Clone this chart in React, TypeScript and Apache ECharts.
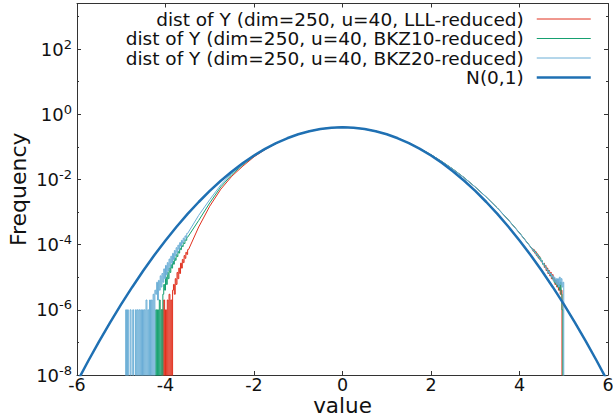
import { useEffect, useRef } from 'react';
import * as echarts from 'echarts';

const FONT = 'DejaVu Sans';
const INK = '#111111';
const AXIS = '#333333';

// x range / ticks
const xMin = -6;
const xMax = 6;
const xStep = 2;
// y range in decades (log10)
const yExpMin = -8;
const yExpMax = 3.396;
const yLabelStep = 2;

const seriesNames = [
  'dist of Y (dim=250, u=40, LLL-reduced)',
  'dist of Y (dim=250, u=40, BKZ10-reduced)',
  'dist of Y (dim=250, u=40, BKZ20-reduced)',
  'N(0,1)',
];
const seriesColors = ['#e0301e', '#16a070', '#6aaed6', '#1f70b3'];
const seriesWidths = [1, 1, 1, 2.5];

// N(0,1) curve
const normalX = [
  -6, -5.75, -5.5, -5.25, -5, -4.75, -4.5, -4.25, -4, -3.75, -3.5, -3.25, -3, -2.75, -2.5, -2.25, -2,
  -1.75, -1.5, -1.25, -1, -0.75, -0.5, -0.25, 0, 0.25, 0.5, 0.75, 1, 1.25, 1.5, 1.75, 2, 2.25, 2.5,
  2.75, 3, 3.25, 3.5, 3.75, 4, 4.25, 4.5, 4.75, 5, 5.25, 5.5, 5.75, 6,
];
const normalY = [
  6.076e-9, 2.64e-8, 1.077e-7, 4.128e-7, 1.487e-6, 5.031e-6, 1.598e-5, 4.774e-5, 1.338e-4, 3.526e-4,
  8.727e-4, 2.028e-3, 4.432e-3, 9.094e-3, 1.753e-2, 3.174e-2, 5.399e-2, 8.628e-2, 0.1295, 0.1827,
  0.242, 0.3011, 0.3521, 0.3867, 0.3989, 0.3867, 0.3521, 0.3011, 0.242, 0.1827, 0.1295, 8.628e-2,
  5.399e-2, 3.174e-2, 1.753e-2, 9.094e-3, 4.432e-3, 2.028e-3, 8.727e-4, 3.526e-4, 1.338e-4, 4.774e-5,
  1.598e-5, 5.031e-6, 1.487e-6, 4.128e-7, 1.077e-7, 2.64e-8, 6.076e-9,
];

// smooth central part of the three histograms
const coreX = [
  -3.25, -3, -2.75, -2.5, -2.25, -2, -1.75, -1.5, -1.25, -1, -0.75, -0.5, -0.25, 0, 0.25, 0.5, 0.75,
  1, 1.25, 1.5, 1.75, 2, 2.25, 2.5, 2.75, 3, 3.25, 3.5, 3.75, 4, 4.25,
];
const lllCore = [
  3.47e-4, 1.51e-3, 5.01e-3, 1.26e-2, 2.57e-2, 4.9e-2, 8.22e-2, 0.1265, 0.1815, 0.2415, 0.301, 0.3525,
  0.3875, 0.3995, 0.3875, 0.3525, 0.3015, 0.2425, 0.1835, 0.1305, 0.0875, 0.0572, 0.035, 0.0204,
  0.01125, 0.00582, 0.00286, 0.00132, 5.65e-4, 2.27e-4, 8.5e-5,
];
const bkz10Core = [
  5.5e-4, 1.9e-3, 5.9e-3, 1.41e-2, 2.82e-2, 5.13e-2, 8.41e-2, 0.1285, 0.182, 0.2418, 0.3012, 0.3523,
  0.3872, 0.3992, 0.3874, 0.3524, 0.3014, 0.2424, 0.1834, 0.1304, 0.0874, 0.0573, 0.0351, 0.0205,
  0.0113, 0.00585, 0.00288, 0.00133, 5.7e-4, 2.3e-4, 8.6e-5,
];
const bkz20Core = [
  7.9e-4, 2.4e-3, 6.8e-3, 1.55e-2, 2.95e-2, 5.25e-2, 8.51e-2, 0.129, 0.1825, 0.242, 0.3011, 0.3521,
  0.387, 0.399, 0.3872, 0.3522, 0.3013, 0.2423, 0.1833, 0.1303, 0.0873, 0.0571, 0.0349, 0.0203,
  0.0112, 0.0058, 0.00284, 0.00131, 5.6e-4, 2.25e-4, 8.4e-5,
];

// noisy tails, histogram bins of width binWidth (0 = empty bin)
const binWidth = 0.02;
const lllLeftStart = -4.08;
const lllLeft = [
  1e-6, 0, 2e-6, 0, 1e-6, 0, 2e-6, 0, 3e-6, 0, 2e-6, 0, 4e-6, 6e-6, 3e-6, 9e-6, 6e-6, 1.4e-5, 9e-6,
  1.9e-5, 1.3e-5, 2.7e-5, 1.9e-5, 3.5e-5, 2.8e-5, 4.6e-5, 3.8e-5, 5.8e-5, 5.0e-5, 7.0e-5,
];
const bkz10LeftStart = -4.22;
const bkz10Left = [
  1e-6, 0, 1e-6, 0, 2e-6, 0, 1e-6, 0, 3e-6, 6e-6, 4e-6, 1.0e-5, 6e-6, 1.4e-5, 9e-6, 1.9e-5, 1.4e-5,
  2.4e-5, 1.9e-5, 3.1e-5, 2.5e-5, 3.9e-5, 3.3e-5, 4.9e-5, 4.3e-5, 6.1e-5, 5.5e-5, 7.7e-5, 7.0e-5,
  9.4e-5, 8.7e-5, 1.14e-4, 1.08e-4, 1.38e-4, 1.35e-4, 1.68e-4,
];
const bkz20LeftStart = -4.92;
const bkz20Left = [
  0, 1e-6, 0, 1e-6, 0, 0, 1e-6, 0, 0, 1e-6, 0, 0, 1e-6, 0, 1e-6, 0, 1e-6, 0, 1e-6, 0, 1e-6, 0, 1e-6,
  0, 2e-6, 0, 1e-6, 0, 2e-6, 0, 2e-6, 0, 3e-6, 0, 4e-6, 3e-6, 7e-6, 2e-6, 8e-6, 4e-6, 1.1e-5, 5e-6,
  1.3e-5, 7e-6, 1.8e-5, 9e-6, 2.3e-5, 1.2e-5, 2.8e-5, 1.6e-5, 3.6e-5, 2.1e-5, 4.4e-5, 2.7e-5,
  5.4e-5, 3.5e-5, 6.6e-5, 4.6e-5, 8.0e-5, 5.8e-5, 9.6e-5, 7.2e-5, 1.15e-4, 9.0e-5, 1.35e-4, 1.12e-4,
  1.58e-4, 1.36e-4, 1.85e-4, 1.65e-4, 2.2e-4,
];
const rightStart = 4.28;
const lllRight = [
  7.6e-5, 6.4e-5, 6.9e-5, 5.5e-5, 6.0e-5, 4.6e-5, 5.1e-5, 3.9e-5, 4.3e-5, 3.4e-5, 3.3e-5, 2.9e-5,
  2.6e-5, 2.7e-5, 2.0e-5, 2.3e-5, 1.6e-5, 1.9e-5, 1.3e-5, 1.6e-5, 1.1e-5, 1.4e-5, 9e-6, 1.2e-5, 8e-6,
  9e-6, 6e-6, 8e-6, 5e-6, 7e-6, 4e-6, 6e-6, 3e-6, 4e-6,
];
const bkz10Right = [
  7.2e-5, 7.0e-5, 6.1e-5, 6.3e-5, 5.2e-5, 5.4e-5, 4.4e-5, 4.6e-5, 3.7e-5, 3.9e-5, 3.1e-5, 3.2e-5,
  2.5e-5, 2.6e-5, 2.2e-5, 2.0e-5, 1.9e-5, 1.6e-5, 1.6e-5, 1.3e-5, 1.3e-5, 1.1e-5, 1.1e-5, 9e-6, 9e-6,
  7e-6, 8e-6, 6e-6, 6e-6, 5e-6, 6e-6, 4e-6, 7e-6, 3e-6, 1e-6,
];
const bkz20Right = [
  7.4e-5, 6.6e-5, 6.4e-5, 5.9e-5, 5.4e-5, 5.1e-5, 4.5e-5, 4.2e-5, 4.0e-5, 3.5e-5, 3.3e-5, 3.0e-5,
  2.7e-5, 2.4e-5, 2.3e-5, 2.0e-5, 1.8e-5, 1.7e-5, 1.4e-5, 1.5e-5, 1.2e-5, 1.3e-5, 1.0e-5, 1.1e-5,
  8e-6, 1.0e-5, 7e-6, 9e-6, 6e-6, 9e-6, 5e-6, 1.0e-5, 6e-6, 9e-6, 5e-6, 7e-6,
];

// empty bins are drawn below the axis floor (like log(0) in the original)
const FLOOR = 1e-9;

function binsToSteps(start: number, values: number[]): number[][] {
  const pts: number[][] = [];
  values.forEach((v, i) => {
    const x0 = start + i * binWidth;
    const y = v > 0 ? v : FLOOR;
    pts.push([x0, y], [x0 + binWidth, y]);
  });
  return pts;
}

function buildHist(leftStart: number, left: number[], core: number[], right: number[]): number[][] {
  const pts: number[][] = [[leftStart, FLOOR]];
  pts.push(...binsToSteps(leftStart, left));
  coreX.forEach((x, i) => pts.push([x, core[i]]));
  pts.push(...binsToSteps(rightStart, right));
  pts.push([rightStart + right.length * binWidth, FLOOR]);
  return pts;
}

export default function App() {
  const ref = useRef<HTMLDivElement>(null);

  useEffect(() => {
    document.body.style.margin = '0';
    if (!ref.current) return;
    const chart = echarts.init(ref.current, undefined, { renderer: 'svg' });

    const axisLineStyle = { color: AXIS, width: 1 };
    const tickBase = { show: true, inside: true, length: 4, lineStyle: axisLineStyle };
    const minor = { show: true, splitNumber: 2, length: 2, lineStyle: axisLineStyle };

    const histData = [
      buildHist(lllLeftStart, lllLeft, lllCore, lllRight),
      buildHist(bkz10LeftStart, bkz10Left, bkz10Core, bkz10Right),
      buildHist(bkz20LeftStart, bkz20Left, bkz20Core, bkz20Right),
    ];
    const normalData = normalX.map((x, i) => [x, normalY[i]]);
    const allData = [...histData, normalData];

    const series: any[] = allData.map((d, i) => ({
      type: 'line',
      name: seriesNames[i],
      data: d,
      xAxisIndex: 0,
      yAxisIndex: 0,
      symbol: 'none',
      showSymbol: false,
      clip: true,
      lineStyle: { color: seriesColors[i], width: seriesWidths[i] },
      itemStyle: { color: seriesColors[i] },
      z: 2 + i,
    }));

    const isInt = (v: number) => Math.abs(v - Math.round(v)) < 1e-6;

    chart.setOption({
      animation: false,
      textStyle: { fontFamily: FONT },
      grid: {
        left: 77,
        right: 5,
        top: 3.5,
        bottom: 42,
        containLabel: false,
        outerBoundsMode: 'none',
      },
      legend: {
        orient: 'vertical',
        right: 21,
        top: 9.5,
        padding: 0,
        align: 'right',
        itemGap: 0.5,
        itemWidth: 54,
        itemHeight: 14,
        itemStyle: { opacity: 0 },
        data: seriesNames.map((name, i) => ({
          name,
          lineStyle: { color: seriesColors[i], width: seriesWidths[i] },
        })),
        formatter: (name: string) => `{t|${name}}`,
        textStyle: {
          rich: {
            t: {
              width: 415,
              align: 'right',
              fontSize: 18.5,
              lineHeight: 22,
              fontFamily: FONT,
              color: INK,
              padding: [0, 8, 0, 0],
            },
          },
        },
      },
      xAxis: [
        {
          type: 'value',
          min: xMin,
          max: xMax,
          interval: xStep,
          position: 'bottom',
          axisLine: { show: true, onZero: false, lineStyle: axisLineStyle },
          axisTick: tickBase,
          axisLabel: {
            fontSize: 17.5,
            lineHeight: 17,
            color: INK,
            fontFamily: FONT,
            margin: 1,
            showMinLabel: true,
            showMaxLabel: true,
          },
          splitLine: { show: false },
          name: 'value',
          nameLocation: 'middle',
          nameGap: 20,
          nameMoveOverlap: false,
          nameTextStyle: { fontSize: 21.5, color: INK, fontFamily: FONT, lineHeight: 20 },
        },
        {
          type: 'value',
          min: xMin,
          max: xMax,
          interval: xStep,
          position: 'top',
          axisLine: { show: true, onZero: false, lineStyle: axisLineStyle },
          axisTick: tickBase,
          axisLabel: { show: false },
          splitLine: { show: false },
        },
      ],
      yAxis: [
        {
          type: 'log',
          logBase: 10,
          min: Math.pow(10, yExpMin),
          max: Math.pow(10, yExpMax),
          show: false,
          splitLine: { show: false },
        },
        {
          type: 'value',
          min: yExpMin,
          max: yExpMax,
          interval: yLabelStep,
          position: 'left',
          axisLine: { show: true, onZero: false, lineStyle: axisLineStyle },
          axisTick: tickBase,
          minorTick: minor,
          splitLine: { show: false },
          axisLabel: {
            margin: 5,
            showMaxLabel: true,
            formatter: (v: number) => (isInt(v) ? `{b|10}{s|${Math.round(v)}}` : ''),
            rich: {
              b: { fontSize: 18, color: INK, fontFamily: FONT },
              s: { fontSize: 13, color: INK, fontFamily: FONT, padding: [0, 0, 10, 0] },
            },
          },
          name: 'Frequency',
          nameLocation: 'middle',
          nameGap: 48,
          nameMoveOverlap: false,
          nameTextStyle: { fontSize: 22, color: INK, fontFamily: FONT },
        },
        {
          type: 'value',
          min: yExpMin,
          max: yExpMax,
          interval: yLabelStep,
          position: 'right',
          axisLine: { show: true, onZero: false, lineStyle: axisLineStyle },
          axisTick: tickBase,
          minorTick: minor,
          splitLine: { show: false },
          axisLabel: { show: false },
        },
      ],
      series,
    });

    return () => chart.dispose();
  }, []);

  return <div ref={ref} style={{ width: 613, height: 417 }} />;
}
